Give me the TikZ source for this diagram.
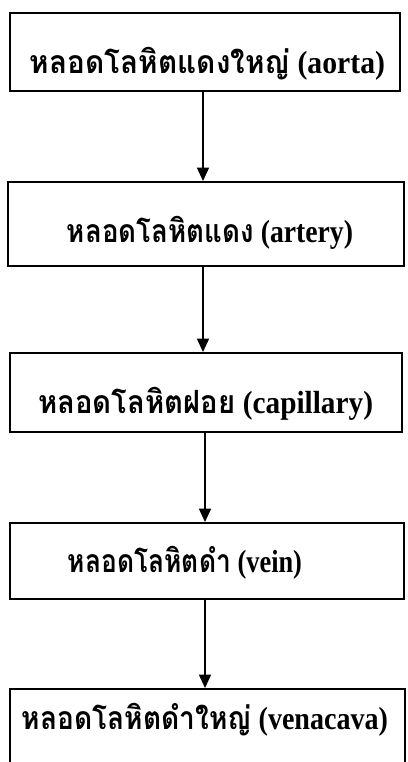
\documentclass[tikz,border=0pt]{standalone}
\usepackage{fontspec}
\setmainfont{Liberation Serif}
\newfontfamily\thaifont[Script=Thai]{Loma}
\usetikzlibrary{arrows.meta}
\newcommand{\fitw}[2]{\resizebox{#1}{\height}{#2}}
\tikzset{
  boxnode/.style={draw=black, line width=1.5pt, rectangle, inner sep=0pt, fill=none},
  txtnode/.style={inner sep=0pt, font=\fontsize{24}{28}\selectfont\bfseries},
  flow/.style={line width=1.1pt, -{Triangle[width=9pt,length=10pt]}}
}
\begin{document}
\begin{tikzpicture}[x=0.75pt,y=-0.75pt]
\useasboundingbox (0,0) rectangle (407,762);
\clip (0,0) rectangle (407,762);
% boxes: centres and sizes in px
\node[boxnode, minimum width=292.5pt, minimum height=58.5pt] (b1) at (205,52) {};
\node[boxnode, minimum width=297pt, minimum height=63pt] (b2) at (206,224) {};
\node[boxnode, minimum width=294pt, minimum height=59.25pt] (b3) at (206,392.5) {};
\node[boxnode, minimum width=295.5pt, minimum height=57pt] (b4) at (207,561) {};
\node[boxnode, minimum width=296.25pt, minimum height=75pt] (b5) at (207.5,739) {};
% texts
\node[txtnode] (t1) at (207.5,64) {\fitw{266.25pt}{{\thaifont หลอดโลหิตแดงใหญ่} (aorta)}};
\node[txtnode] (t2) at (210,233) {\fitw{214.5pt}{{\thaifont หลอดโลหิตแดง} (artery)}};
\node[txtnode] (t3) at (205.5,404) {\fitw{251.25pt}{{\thaifont หลอดโลหิตฝอย} (capillary)}};
\node[txtnode] (t4) at (185,563) {\fitw{175.5pt}{{\thaifont หลอดโลหิตดำ} (vein)}};
\node[txtnode] (t5) at (205,720) {\fitw{274.5pt}{{\thaifont หลอดโลหิตดำใหญ่}\ (venacava)}};
% connectors
\coordinate (a1s) at (203,91);
\draw[flow] (b1.south -| a1s) -- (b2.north -| a1s);
\draw[flow] (b2.south -| a1s) -- (b3.north -| a1s);
\coordinate (a3s) at (205,0);
\draw[flow] (b3.south -| a3s) -- (b4.north -| a3s);
\draw[flow] (b4.south -| a3s) -- (b5.north -| a3s);
\end{tikzpicture}
\end{document}
